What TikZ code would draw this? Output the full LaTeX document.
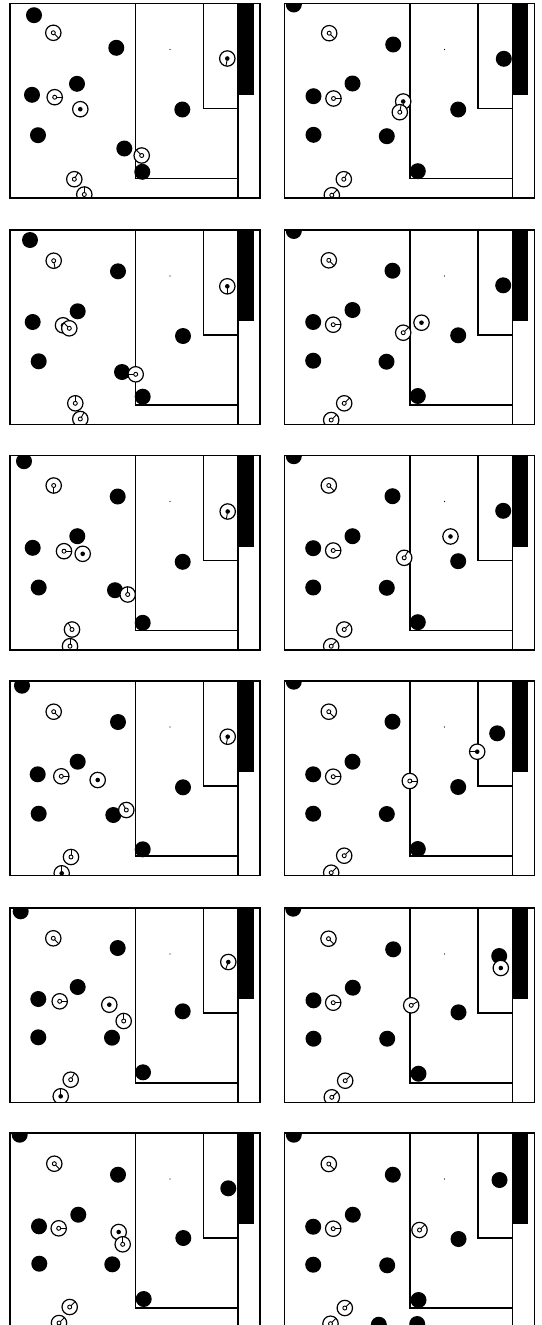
\documentclass[tikz,border=0pt]{standalone}
\usepackage{tikz}
\tikzset{
  rim/.style={draw=black, line width=1.6pt},
  wall/.style={draw=black, line width=1.2pt},
  obst/.style={fill=black},
  robo/.style={draw=black, fill=white, line width=1.2pt},
  robline/.style={draw=black, line width=0.9pt},
  bin/.style={fill=black}
}
% one arena: origin x, origin y, obstacles x/y, robots x/y/heading/kind
\newcommand{\arena}[4]{%
  \begin{scope}[shift={(#1,#2)}]
    \begin{scope}
      \clip (0,0) rectangle (250,194.5);
      \fill[bin] (228,0) rectangle (243.5,91);
      \fill (160,46) circle (0.7);
      \draw[wall] (125.5,0) |- (228,175);
      \draw[wall] (193.5,0) |- (228,105);
      \draw[wall] (228,0) -- (228,194.5);
      \foreach \px/\py in {#3} \fill[obst] (\px,\py) circle (8);
      \foreach \px/\py/\pa/\pk in {#4} {
        \draw[robo] (\px,\py) circle (7.7);
        \ifnum\pk=0 \draw[robline] (\px,\py) circle (2); \fi
        \ifnum\pk>0 \fill (\px,\py) circle (2.3); \fi
        \ifnum\pk<2 \draw[robline] (\px,\py) ++(\pa:2) -- ++(\pa:5.7); \fi
      }
    \end{scope}
    \draw[rim] (0,0) rectangle (250,194.5);
  \end{scope}}
\begin{document}
\begin{tikzpicture}[x=1pt, y=-1pt]
  \useasboundingbox (0,0) rectangle (541,1325);
  \fill[white] (0,0) rectangle (541,1325);
  % row 1
  \arena{10}{3.5}
    {24/11.7, 106.3/44.3, 67/80.3, 22/91.3, 28/131.7, 114.3/145, 172.3/106, 132.3/168.3}
    {43.3/29.3/45/0, 217.3/55/100/1, 44.7/93.7/0/0, 70.3/105.7/0/2, 131.7/152/-135/0, 64.3/175.7/-60/0, 74.3/191/-90/0}
  \arena{284.5}{3.5}
    {9.3/1, 108.7/41, 68/80, 29/92.7, 29/131.3, 102.3/132.7, 173.7/106, 133.3/167.7, 219.3/55.3}
    {44.7/29.7/45/0, 49/95/0/0, 118.7/98/90/1, 115.3/108.7/-80/0, 59.3/175.7/-60/0, 47.3/191.7/-45/0}
  % row 2
  \arena{10}{230}
    {20/10, 108/41.3, 67.7/81.3, 22.7/92, 28.7/131.3, 112/142, 173/106, 132.7/166.7}
    {43.7/30.7/80/0, 217.3/56.3/90/1, 53/95.3/0/1, 59.3/98.3/-135/0, 125.7/144.3/180/0, 65.3/173.3/-90/0, 70.3/189/-60/0}
  \arena{284.5}{230}
    {9.3/1, 108/40.7, 68/80, 28.7/92, 28.7/130.7, 102/131.7, 173.7/105.3, 133.3/166, 218.7/55.3}
    {44.3/30.3/45/0, 48.7/94.7/0/0, 118.7/102.7/-45/0, 137/92.7/0/2, 59.7/173.3/-45/0, 46.7/190/-45/0}
  % row 3
  \arena{10}{455.5}
    {14/5.7, 107.7/41, 67.3/80.7, 22.7/92.3, 28.7/132, 105/134.7, 172.7/106.3, 132.7/167.3}
    {43.7/30/90/0, 217.7/56/100/1, 54/95.7/0/0, 72.7/98.3/0/2, 117.7/139/-90/0, 62/174/-120/0, 60/190.7/-90/0}
  \arena{284.5}{455.5}
    {9.3/0.7, 108/40.7, 68/80.7, 28.7/92.7, 28.7/132, 102.3/132.3, 173.7/105.7, 133.3/166.7, 218.7/55.3}
    {44.3/30/45/0, 48.7/95/0/0, 119.7/102.3/-60/0, 166/81/0/2, 59.7/174/-45/0, 46.7/190.7/-45/0}
  % row 4
  \arena{10}{681}
    {12/4.7, 108/41, 67.7/80.7, 27.7/93.3, 28.7/132.7, 103.3/134, 173/106.3, 132.7/168.3}
    {43.7/30.7/45/0, 217.7/55.7/100/1, 51.3/95.3/0/0, 87.7/99/0/2, 116.3/129/-120/0, 61/176/-90/0, 51.7/192.3/-90/1}
  \arena{284.5}{681}
    {9.3/0.7, 108/40.7, 68/80.7, 28.7/93.3, 28.7/132.7, 102.3/133, 173.7/106, 133.3/168, 212.7/52.3}
    {44.3/30.7/45/0, 48.7/95.7/0/0, 125.3/100/0/0, 192.7/70.7/180/1, 59.7/174.7/-45/0, 46.7/191.7/-45/0}
  % row 5
  \arena{10}{908}
    {10.7/3.3, 107.7/40, 67.7/79, 28.3/91, 28.3/129.3, 102/129.7, 172.7/103.3, 133/164.3}
    {43.3/30.3/45/0, 218.3/54/110/1, 49.7/93.3/0/0, 99.3/96.7/0/2, 113.7/113/-90/0, 60.7/171.7/-60/0, 50.7/188.3/-90/1}
  \arena{284.5}{908}
    {8.7/0.7, 108.7/41.3, 68.3/79.7, 29/92.3, 29/130.7, 102.7/130.7, 174/104.3, 134/165.7, 214.7/48}
    {44/30.7/45/0, 48.7/94.7/0/0, 126.7/97.3/-30/0, 216.3/60/0/2, 60.7/172.7/-45/0, 47.3/189.3/-45/0}
  % row 6
  \arena{10}{1133}
    {9.7/1.7, 108/41.7, 68.3/81.7, 29/93.3, 29.3/130.7, 102.3/131.3, 173.3/105, 133.7/166, 218.3/55.3}
    {44.3/30.7/45/0, 48.7/95.3/0/0, 108.7/99/0/2, 112.7/111.3/-90/0, 59.7/174/-45/0, 49/190/-45/0}
  \arena{284.5}{1133}
    {9.3/1.7, 108.3/41.7, 68.3/81.7, 28.7/93.7, 28.7/131.7, 102.7/132.3, 174/106, 134/167, 215/47, 94.3/191.7, 132.7/191}
    {44.3/31/45/0, 48.7/95.7/0/0, 135/97/-45/0, 60.3/175/-45/0, 46/190.7/-45/0}
\end{tikzpicture}
\end{document}
